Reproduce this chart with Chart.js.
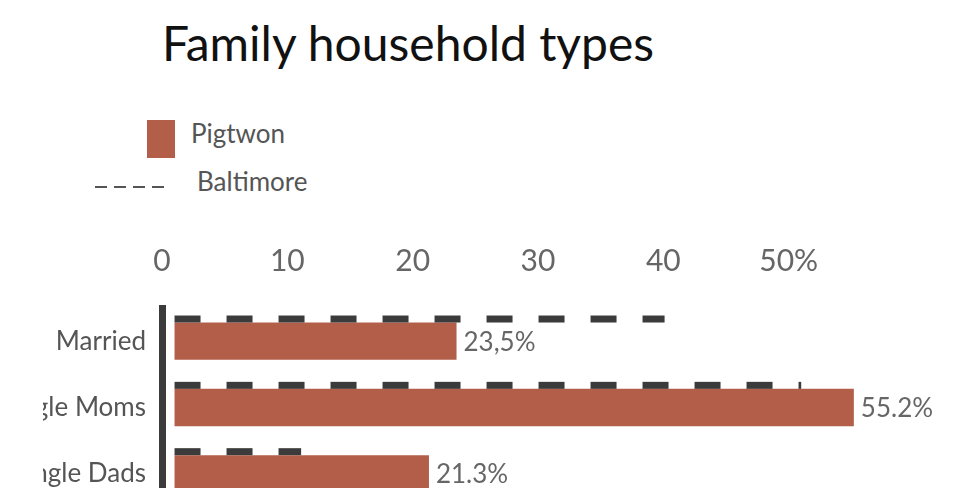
<!DOCTYPE html>
<html>
<head>
<meta charset="utf-8">
<title>Family household types</title>
<script src="https://cdn.jsdelivr.net/npm/chart.js@4.4.0/dist/chart.umd.min.js"></script>
<style>
  html, body { margin: 0; padding: 0; background: #fff; }
  body { width: 967px; height: 504px; position: relative; overflow: hidden; font-family: Lato, sans-serif; }
  #title { position: absolute; left: 162px; top: 14px; margin: 0; font-size: 48px; font-weight: 400; color: #111; white-space: nowrap; }
  .legend-text { position: absolute; font-size: 26px; color: #555; line-height: 30px; white-space: nowrap; }
  #swatchPigtwon { position: absolute; left: 147px; top: 120px; width: 28px; height: 38px; background: #b35e48; }
  #swatchBaltimore { position: absolute; left: 95px; top: 183px; }
  #chartClip { position: absolute; left: 43px; top: 0; width: 924px; height: 488px; overflow: hidden; }
  #chartBox { position: relative; width: 924px; height: 540px; }
</style>
</head>
<body>
<h1 id="title">Family household types</h1>

<div id="swatchPigtwon"></div>
<div class="legend-text" style="left:191px; top:118px;">Pigtwon</div>
<svg id="swatchBaltimore" width="75" height="8">
  <line x1="0" y1="4" x2="75" y2="4" stroke="#555" stroke-width="2" stroke-dasharray="12 7"></line>
</svg>
<div class="legend-text" style="left:197px; top:166px;">Baltimore</div>

<div id="chartClip">
  <div id="chartBox"><canvas id="chart"></canvas></div>
</div>

<script>
// Chart data
const categories = ['Married', 'Single Moms', 'Single Dads'];
const pigtwonValues = [23.5, 55.2, 21.3];
const pigtwonLabels = ['23,5%', '55.2%', '21.3%'];
const baltimoreValues = [40.1, 51.0, 11.1];
const tickValues = [0, 10, 20, 30, 40, 50];
const tickLabels = ['0', '10', '20', '30', '40', '50%'];

// bars start a little right of the axis line
const BAR_BASE = 1;

// Baltimore dashed lines over each bar, plus the value labels
const baltimoreLines = {
    id: 'baltimoreLines',
    afterDatasetsDraw(chart) {
        const ctx = chart.ctx;
        const xScale = chart.scales.x;
        const bars = chart.getDatasetMeta(0).data;

        ctx.save();
        ctx.strokeStyle = '#3b3b3b';
        ctx.lineWidth = 7;
        ctx.lineCap = 'butt';
        ctx.setLineDash([26, 26]);
        bars.forEach((bar, i) => {
            const y = bar.y - bar.height / 2 - 3.5;
            ctx.beginPath();
            ctx.moveTo(xScale.getPixelForValue(BAR_BASE), y);
            ctx.lineTo(xScale.getPixelForValue(baltimoreValues[i]), y);
            ctx.stroke();
        });

        ctx.setLineDash([]);
        ctx.fillStyle = '#666';
        ctx.font = '26px Lato';
        ctx.textAlign = 'left';
        ctx.textBaseline = 'middle';
        bars.forEach((bar, i) => {
            ctx.fillText(pigtwonLabels[i], bar.x + 7, bar.y + 1);
        });
        ctx.restore();
    }
};

new Chart(document.getElementById('chart'), {
    type: 'bar',
    data: {
        labels: categories,
        datasets: [{
            label: 'Pigtwon',
            data: pigtwonValues,
            base: BAR_BASE,
            backgroundColor: '#b35e48',
            barPercentage: 0.5625,
            categoryPercentage: 1
        }]
    },
    options: {
        indexAxis: 'y',
        responsive: true,
        maintainAspectRatio: false,
        animation: false,
        layout: {
            padding: { top: 214, right: 53, bottom: 33, left: 0 }
        },
        plugins: {
            legend: { display: false },
            tooltip: { enabled: false }
        },
        scales: {
            x: {
                position: 'top',
                min: 0,
                max: 60,
                grid: { display: false, drawTicks: false },
                border: { display: false },
                afterBuildTicks: axis => {
                    axis.ticks = tickValues.map(v => ({ value: v }));
                },
                ticks: {
                    padding: 29,
                    color: '#666',
                    autoSkip: false,
                    maxRotation: 0,
                    font: { family: 'Lato', size: 30 },
                    callback: (value, index) => tickLabels[index]
                }
            },
            y: {
                grid: { display: false, drawTicks: false },
                border: { display: true, color: '#3b3b3b', width: 7 },
                afterFit: axis => {
                    axis.width = 119;
                },
                ticks: {
                    padding: 16,
                    color: '#555',
                    font: { family: 'Lato', size: 26 }
                }
            }
        }
    },
    plugins: [baltimoreLines]
});
</script>
</body>
</html>
